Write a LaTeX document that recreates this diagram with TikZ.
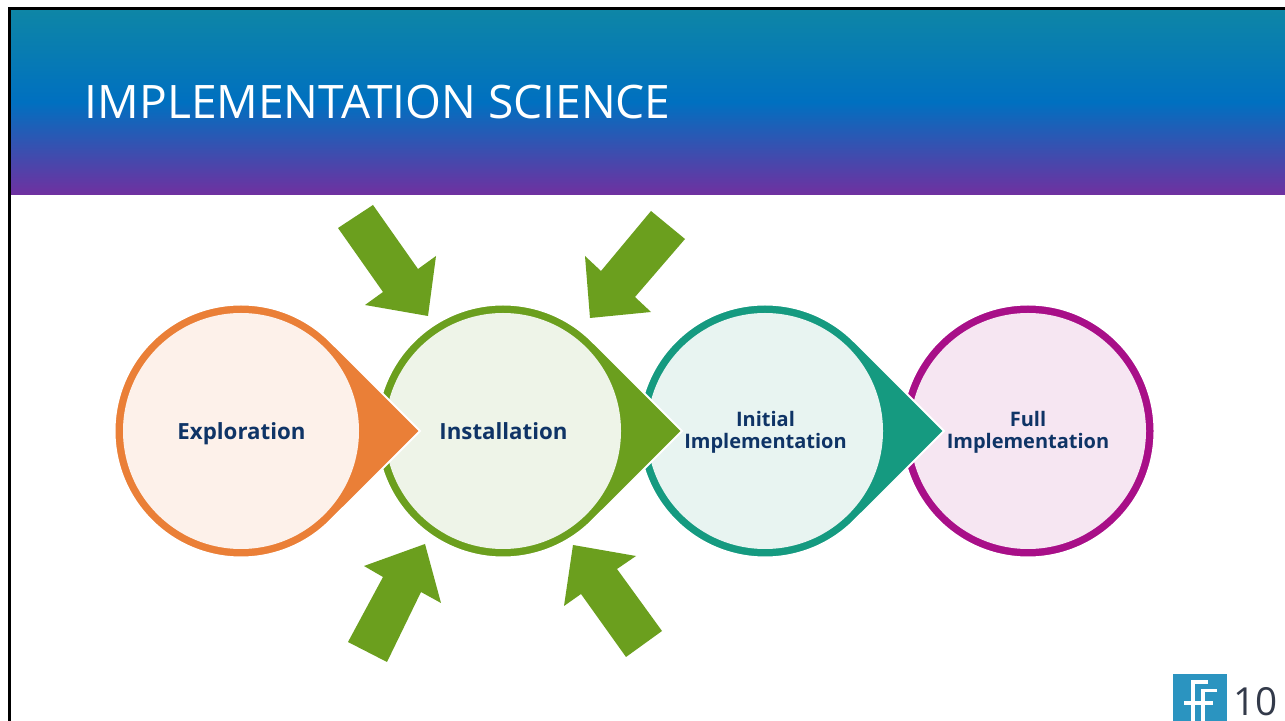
\documentclass[tikz,border=0pt]{standalone}
\usepackage{fontspec}
\setmainfont{Open Sans}
\newfontfamily\labelfont{Open Sans}
\definecolor{navy}{HTML}{0F3466}
\definecolor{cOrange}{HTML}{EA7F37}
\definecolor{iOrange}{HTML}{FDF1EA}
\definecolor{cGreen}{HTML}{6B9F1E}
\definecolor{iGreen}{HTML}{EEF4E8}
\definecolor{cTeal}{HTML}{159A80}
\definecolor{iTeal}{HTML}{E8F4F1}
\definecolor{cPurple}{HTML}{A80F88}
\definecolor{iPurple}{HTML}{F6E6F2}
\definecolor{hTeal}{HTML}{0E86A6}
\definecolor{hBlue}{HTML}{0070C0}
\definecolor{hPurple}{HTML}{7030A0}
\definecolor{logoBlue}{HTML}{2B94C0}
\definecolor{numGrey}{HTML}{333A4A}
\tikzset{
  x=0.75pt,y=0.75pt,
  stagedisc/.style={circle,minimum size=177pt,inner sep=0pt},
  stagetext/.style={inner sep=0pt,align=center,text=navy},
  bigtext/.style={font=\labelfont\bfseries\fontsize{16.7}{16.5}\selectfont},
  smalltext/.style={font=\labelfont\bfseries\fontsize{15}{16.5}\selectfont},
  blockarrow/.style={fill=cGreen,draw=none},
  logoline/.style={draw=white,line width=2.7pt}
}
\newcommand{\stage}[5]{% x, name, ring, inner, hasTip
  \coordinate (#2c) at (#1,290);
  \ifnum#5=1
    \path[draw=white,line width=1.5pt,fill=#3] (#1+179,290) -- (#1+89.45,379.45)
      arc[start angle=45,end angle=315,radius=126.5] -- cycle;
  \else
    \path[draw=white,line width=1.5pt,fill=#3] (#2c) circle[radius=126.5];
  \fi
  \node[stagedisc,fill=#4] (#2) at (#2c) {};
}
\begin{document}
\begin{tikzpicture}
\useasboundingbox (0,0) rectangle (1285,721);
\fill[white] (0,0) rectangle (1285,721);
\shade[top color=hTeal,bottom color=hPurple,middle color=hBlue] (10,526) rectangle (1285,712);
\draw[black,line width=2.2pt] (9.5,0) -- (9.5,712.5) -- (1285,712.5);
\node[anchor=base west,text=white,inner sep=0pt,font=\fontsize{34.6}{34.6}\selectfont] (title) at (84.5,602) {IMPLEMENTATION SCIENCE};

\stage{1028}{full}{cPurple}{iPurple}{0}
\stage{765}{init}{cTeal}{iTeal}{1}
\stage{503}{inst}{cGreen}{iGreen}{1}
\stage{241}{expl}{cOrange}{iOrange}{1}

\node[stagetext,bigtext] (explT) at (241.5,286.4) {\strut Exploration};
\node[stagetext,bigtext] (instT) at (503.5,286.4) {\strut Installation};
\node[stagetext,smalltext] (initT) at (765.5,287.4) {\strut Initial\\\strut Implementation};
\node[stagetext,smalltext] (fullT) at (1028,287.4) {\strut Full\\\strut Implementation};

\fill[blockarrow] (338,493) -- (373,516) -- (418,452) -- (436,465) -- (428,405) -- (365,416) -- (383,429) -- cycle;
\fill[blockarrow] (651,510) -- (685,482) -- (635,424) -- (651,409) -- (590,403) -- (585,465) -- (601,450) -- cycle;
\fill[blockarrow] (348,79) -- (387,59) -- (421,129) -- (441,118) -- (425,177) -- (364,155) -- (383,144) -- cycle;
\fill[blockarrow] (662,90) -- (626,64) -- (581,127) -- (564,115) -- (573,176) -- (636,165) -- (617,152) -- cycle;

\fill[logoBlue] (1173,0) rectangle (1227,47);
\draw[logoline] (1208,39) -- (1193,39) -- (1193,0);
\draw[logoline] (1217,30.5) -- (1203,30.5) -- (1203,0);
\draw[logoline] (1184,18) -- (1213,18);
\node[anchor=base west,inner sep=0pt,text=numGrey,font=\fontsize{29}{29}\selectfont] (num) at (1233,6) {10};
\end{tikzpicture}
\end{document}
